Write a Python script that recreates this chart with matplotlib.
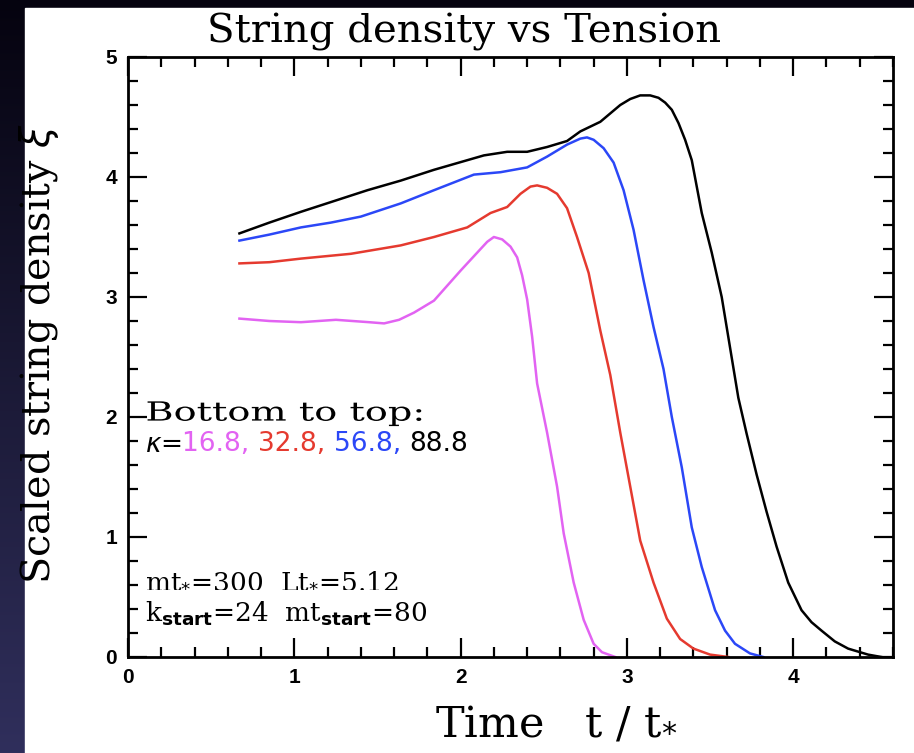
import matplotlib.pyplot as plt
import numpy as np
from matplotlib.ticker import MultipleLocator
from matplotlib.textpath import TextPath
from matplotlib.patches import PathPatch
from matplotlib.font_manager import FontProperties
from matplotlib.transforms import Affine2D

# kappa = 16.8 (magenta)
t1 = [0.67, 0.85, 1.04, 1.25, 1.45, 1.54, 1.63, 1.72, 1.84, 2.00, 2.10, 2.16, 2.20, 2.25, 2.30,
      2.34, 2.37, 2.40, 2.43, 2.46, 2.52, 2.58, 2.62, 2.68, 2.74, 2.80, 2.85, 2.93]
xi1 = [2.82, 2.80, 2.79, 2.81, 2.79, 2.78, 2.81, 2.87, 2.97, 3.22, 3.37, 3.46, 3.50, 3.48, 3.42,
       3.33, 3.18, 2.98, 2.67, 2.28, 1.87, 1.42, 1.03, 0.62, 0.31, 0.11, 0.04, 0.0]

# kappa = 32.8 (red)
t2 = [0.67, 0.85, 1.04, 1.34, 1.64, 1.84, 2.04, 2.18, 2.28, 2.36, 2.42, 2.46, 2.52, 2.58,
      2.64, 2.70, 2.77, 2.84, 2.90, 2.96, 3.02, 3.08, 3.16, 3.24, 3.32, 3.40, 3.50, 3.61]
xi2 = [3.28, 3.29, 3.32, 3.36, 3.43, 3.50, 3.58, 3.70, 3.75, 3.86, 3.92, 3.93, 3.91, 3.86,
       3.74, 3.50, 3.20, 2.72, 2.35, 1.87, 1.42, 0.97, 0.62, 0.32, 0.15, 0.07, 0.02, 0.0]

# kappa = 56.8 (blue)
t3 = [0.67, 0.85, 1.04, 1.22, 1.40, 1.64, 1.84, 2.08, 2.24, 2.40, 2.52, 2.64, 2.72, 2.76,
      2.80, 2.86, 2.92, 2.98, 3.04, 3.10, 3.16, 3.22, 3.27, 3.33, 3.39, 3.45, 3.53, 3.59,
      3.65, 3.74, 3.82]
xi3 = [3.47, 3.52, 3.58, 3.62, 3.67, 3.78, 3.89, 4.02, 4.04, 4.08, 4.17, 4.27, 4.32, 4.33,
       4.31, 4.24, 4.12, 3.89, 3.56, 3.14, 2.75, 2.40, 2.00, 1.58, 1.08, 0.75, 0.39, 0.22,
       0.11, 0.03, 0.0]

# kappa = 88.8 (black)
t4 = [0.67, 0.85, 1.04, 1.24, 1.44, 1.64, 1.84, 2.14, 2.28, 2.40, 2.52, 2.64, 2.72, 2.84,
      2.96, 3.02, 3.08, 3.14, 3.19, 3.23, 3.27, 3.31, 3.35, 3.39, 3.45, 3.51, 3.57, 3.62,
      3.67, 3.72, 3.78, 3.84, 3.90, 3.97, 4.05, 4.11, 4.17, 4.25, 4.33, 4.45, 4.53]
xi4 = [3.53, 3.62, 3.71, 3.80, 3.89, 3.97, 4.06, 4.18, 4.21, 4.21, 4.25, 4.30, 4.38, 4.46,
       4.60, 4.65, 4.68, 4.68, 4.66, 4.62, 4.56, 4.45, 4.31, 4.14, 3.70, 3.37, 3.00, 2.58,
       2.16, 1.86, 1.52, 1.21, 0.92, 0.62, 0.39, 0.29, 0.22, 0.13, 0.07, 0.02, 0.0]

kappas = ['16.8', '32.8', '56.8', '88.8']
colors = ['#e263f2', '#e53a2f', '#2b47f7', 'black']

fig = plt.figure(figsize=(9.14, 7.53), dpi=100)
fig.patch.set_facecolor('#05030f')

# white panel + dark gradient strip on the left
bg = fig.add_axes([0, 0, 1, 1], zorder=-10)
bg.axis('off')
grad = np.linspace(0, 1, 256).reshape(-1, 1)
bg.imshow(grad, cmap=plt.matplotlib.colors.LinearSegmentedColormap.from_list(
    'g', ['#302f5c', '#05030f']), extent=[0, 1, 0, 1], aspect='auto', origin='lower')
bg.add_patch(plt.Rectangle((25 / 914, 0), 1, 1 - 8 / 753, color='white', zorder=2))
bg.set_xlim(0, 1)
bg.set_ylim(0, 1)

ax = fig.add_axes([128 / 914, 96 / 753, 765 / 914, 600 / 753])
for t, xi, c in zip([t1, t2, t3, t4], [xi1, xi2, xi3, xi4], colors):
    ax.plot(t, xi, color=c, lw=1.8, solid_joinstyle='round')

ax.set_xlim(0, 4.6)
ax.set_ylim(0, 5)
ax.xaxis.set_major_locator(MultipleLocator(1))
ax.xaxis.set_minor_locator(MultipleLocator(0.2))
ax.yaxis.set_major_locator(MultipleLocator(1))
ax.yaxis.set_minor_locator(MultipleLocator(0.2))
ax.tick_params(which='both', direction='in', top=True, right=True, width=1.6, color='black')
ax.tick_params(which='major', length=14, pad=8)
ax.tick_params(which='minor', length=7)
for lab in ax.get_xticklabels() + ax.get_yticklabels():
    lab.set_fontfamily('Liberation Sans')
    lab.set_fontweight('bold')
    lab.set_fontsize(15)
for s in ax.spines.values():
    s.set_linewidth(2)

serif = 'DejaVu Serif'
fig.text(0.508, 0.958, 'String density vs Tension', ha='center', va='center',
         fontsize=29, family=serif)
ax.set_xlabel(r'Time   t / t$_{*}$', fontsize=31, family=serif)
ax.xaxis.set_label_coords(0.56, -0.075)
ax.set_ylabel(r'Scaled string density $\xi$', fontsize=28.5, family=serif)
ax.yaxis.set_label_coords(-0.088, 0.505)

fs = 19
x0 = 0.105

# wide-set heading (reference font is much wider than DejaVu)
tp = TextPath((0, 0), 'Bottom to top:', size=fs, prop=FontProperties(family=serif))
ox, oy = ax.transData.transform((x0, 1.97))
k = fig.dpi / 72
fig.add_artist(PathPatch(tp, transform=Affine2D().scale(1.45 * k, k).translate(ox, oy),
                         facecolor='black', lw=0))

txt = ax.text(x0, 1.71, r'$\kappa$=', fontsize=fs, family=serif, va='baseline')
fig.canvas.draw()
for i, (kap, c) in enumerate(zip(kappas, colors)):
    s = kap + (', ' if i < len(kappas) - 1 else '')
    txt = ax.annotate(s, xycoords=txt, xy=(1, 0), va='bottom', color=c,
                      fontsize=fs, family='DejaVu Sans')

ax.text(x0, 0.58, r'mt$_{*}$=300  Lt$_{*}$=5.12', fontsize=fs, family=serif, va='baseline')
ax.text(x0, 0.30, r'k$_{\mathbf{start}}$=24  mt$_{\mathbf{start}}$=80', fontsize=fs,
        family=serif, va='baseline')

fig.savefig('out.png', dpi=100, facecolor=fig.get_facecolor())
